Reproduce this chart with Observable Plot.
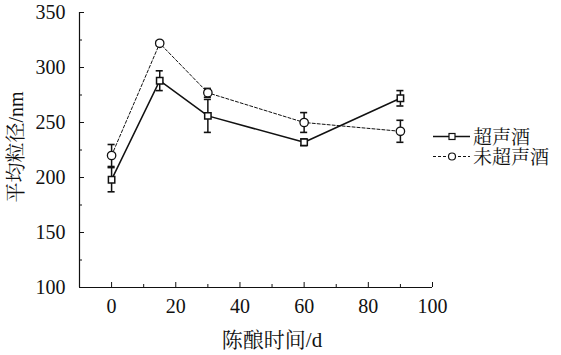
<!DOCTYPE html>
<html>
<head>
<meta charset="utf-8">
<script src="https://cdn.jsdelivr.net/npm/d3@7"></script>
<script src="https://cdn.jsdelivr.net/npm/@observablehq/plot@0.6"></script>
<style>
  body { margin: 0; background: #fff; }
  #wrap { position: relative; width: 561px; height: 355px; font-family: 'Liberation Serif', serif; }
  .lbl { position: absolute; font-size: 20px; line-height: 1; color: #111; white-space: nowrap; }
  .leg { position: absolute; font-size: 19px; line-height: 1; height: 17px; color: #111; white-space: nowrap; display: flex; align-items: center; }
</style>
</head>
<body>
<div id="wrap"></div>
<script>
const days = [0, 15, 30, 60, 90];
const series1Name = "超声酒";
const series1Mean = [198, 288, 256, 232, 272];
const series1Err  = [11, 9, 15, 3, 7];
const series2Name = "未超声酒";
const series2Mean = [220, 322, 277, 250, 242];
const series2Err  = [10, 2, 4, 9, 10];
const yTicks = [100, 150, 200, 250, 300, 350];
const yMinor = [125, 175, 225, 275, 325];
const xTicks = [0, 20, 40, 60, 80, 100];
const xMinor = [10, 30, 50, 70, 90];
const xTitle = "陈酿时间/d";
const yTitle = "平均粒径/nm";

const LATIN = "Liberation Serif";
const CJK = "Noto Serif CJK SC";
const s1 = days.map((d, i) => ({x: d, y: series1Mean[i], e: series1Err[i]}));
const s2 = days.map((d, i) => ({x: d, y: series2Mean[i], e: series2Err[i]}));
const capHalf = 1.1;

function errMarks(data) {
  return [
    Plot.ruleX(data, {x: "x", y1: d => d.y - d.e, y2: d => d.y + d.e, stroke: "#111", strokeWidth: 1.5}),
    Plot.ruleY(data, {y: d => d.y - d.e, x1: d => d.x - capHalf, x2: d => d.x + capHalf, stroke: "#111", strokeWidth: 1.6}),
    Plot.ruleY(data, {y: d => d.y + d.e, x1: d => d.x - capHalf, x2: d => d.x + capHalf, stroke: "#111", strokeWidth: 1.6})
  ];
}

const chart = Plot.plot({
  width: 561,
  height: 355,
  marginLeft: 79,
  marginRight: 129,
  marginTop: 12,
  marginBottom: 68,
  style: {fontSize: "20px", color: "#111", background: "transparent"},
  x: {domain: [-10, 100]},
  y: {domain: [100, 350]},
  marks: [
    Plot.axisY({ticks: yTicks, tickSize: -5, tickPadding: 19, label: null}),
    Plot.axisY({ticks: yMinor, tickSize: -3, tickFormat: () => "", label: null}),
    Plot.axisX({ticks: xTicks, tickSize: -5, tickPadding: 16, label: null}),
    Plot.axisX({ticks: xMinor, tickSize: -3, tickFormat: () => "", label: null}),
    Plot.ruleX([-10], {stroke: "#111", strokeWidth: 1.2}),
    Plot.ruleY([100], {stroke: "#111", strokeWidth: 1.2}),
    ...errMarks(s2),
    ...errMarks(s1),
    Plot.line(s2, {x: "x", y: "y", stroke: "#111", strokeWidth: 1, strokeDasharray: "3,2"}),
    Plot.line(s1, {x: "x", y: "y", stroke: "#111", strokeWidth: 1.5}),
    Plot.dot(s2, {x: "x", y: "y", symbol: "circle", r: 4.2, fill: "white", stroke: "#111", strokeWidth: 1.3}),
    Plot.dot(s1, {x: "x", y: "y", symbol: "square", r: 3.6, fill: "white", stroke: "#111", strokeWidth: 1.5})
  ]
});
chart.setAttribute("font-family", LATIN);
chart.querySelectorAll("text").forEach(t => t.setAttribute("font-family", LATIN));
chart.style.fontFamily = `"${LATIN}"`;
const wrap = document.getElementById("wrap");
wrap.appendChild(chart);

function mixed(el, str) {
  // CJK characters in the serif CJK face, Latin characters in the Latin face
  for (const part of str.match(/[\u3000-\u9fff]+|[^\u3000-\u9fff]+/g)) {
    const s = document.createElement("span");
    s.textContent = part;
    s.style.fontFamily = /[\u3000-\u9fff]/.test(part) ? `"${CJK}"` : `"${LATIN}"`;
    el.appendChild(s);
  }
}

const xl = document.createElement("div");
xl.className = "lbl";
mixed(xl, xTitle);
xl.style.left = "272px"; xl.style.top = "339px";
xl.style.transform = "translate(-50%, -50%)";
xl.style.fontSize = "21px";
wrap.appendChild(xl);

const yl = document.createElement("div");
yl.className = "lbl";
mixed(yl, yTitle);
yl.style.left = "14.5px"; yl.style.top = "147px";
yl.style.transform = "translate(-50%, -50%) rotate(-90deg)";
yl.style.fontSize = "20px";
wrap.appendChild(yl);

function legendRow(name, dashed, circle, top) {
  const row = document.createElement("div");
  row.className = "leg";
  row.style.left = "433px";
  row.style.top = top + "px";
  const ns = "http://www.w3.org/2000/svg";
  const sv = document.createElementNS(ns, "svg");
  sv.setAttribute("width", "38"); sv.setAttribute("height", "12");
  const ln = document.createElementNS(ns, "line");
  ln.setAttribute("x1", "0"); ln.setAttribute("x2", "37"); ln.setAttribute("y1", "6"); ln.setAttribute("y2", "6");
  ln.setAttribute("stroke", "#111"); ln.setAttribute("stroke-width", dashed ? "1" : "1.5");
  if (dashed) ln.setAttribute("stroke-dasharray", "3,2");
  sv.appendChild(ln);
  let mk;
  if (circle) {
    mk = document.createElementNS(ns, "circle");
    mk.setAttribute("cx", "19"); mk.setAttribute("cy", "6"); mk.setAttribute("r", "3.5");
  } else {
    mk = document.createElementNS(ns, "rect");
    mk.setAttribute("x", "16"); mk.setAttribute("y", "3"); mk.setAttribute("width", "6"); mk.setAttribute("height", "6");
  }
  mk.setAttribute("fill", "white"); mk.setAttribute("stroke", "#111"); mk.setAttribute("stroke-width", "1.2");
  sv.appendChild(mk);
  row.appendChild(sv);
  const t = document.createElement("span");
  mixed(t, name);
  t.style.marginLeft = "2px";
  row.appendChild(t);
  row.style.transform = "translateY(-50%)";
  wrap.appendChild(row);
}
legendRow(series1Name, false, false, 136);
legendRow(series2Name, true, true, 156);
</script>
</body>
</html>
